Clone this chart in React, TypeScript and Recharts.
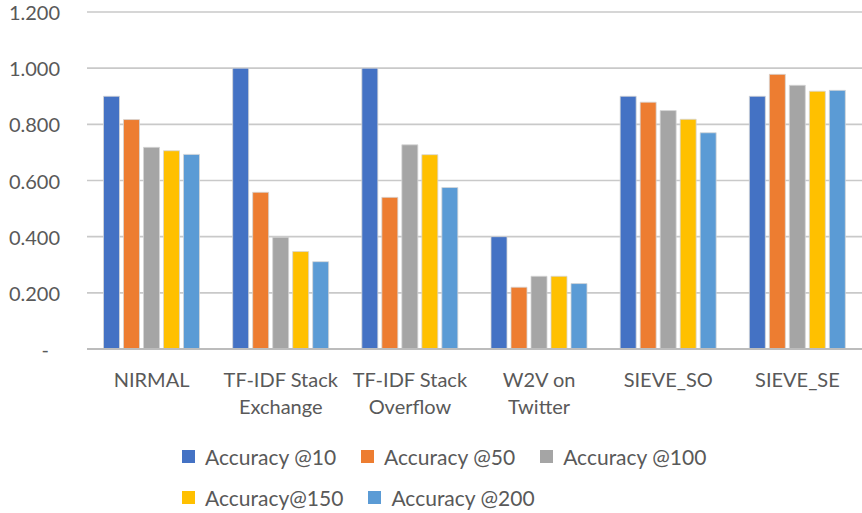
import React from "react";
import { BarChart, Bar, XAxis, YAxis, CartesianGrid } from "recharts";

const categories = [
  "NIRMAL",
  "TF-IDF Stack\nExchange",
  "TF-IDF Stack\nOverflow",
  "W2V on\nTwitter",
  "SIEVE_SO",
  "SIEVE_SE",
];

const acc10 = [0.9, 1.0, 1.0, 0.4, 0.9, 0.9];
const acc50 = [0.817, 0.558, 0.54, 0.22, 0.879, 0.978];
const acc100 = [0.718, 0.398, 0.727, 0.259, 0.849, 0.939];
const acc150 = [0.706, 0.347, 0.692, 0.259, 0.818, 0.918];
const acc200 = [0.693, 0.311, 0.575, 0.233, 0.77, 0.921];

const yTicks = [0, 0.2, 0.4, 0.6, 0.8, 1.0, 1.2];

const series = [
  { key: "acc10", name: "Accuracy @10", color: "#4472C4", values: acc10 },
  { key: "acc50", name: "Accuracy @50", color: "#ED7D31", values: acc50 },
  { key: "acc100", name: "Accuracy @100", color: "#A5A5A5", values: acc100 },
  { key: "acc150", name: "Accuracy@150", color: "#FFC000", values: acc150 },
  { key: "acc200", name: "Accuracy @200", color: "#5B9BD5", values: acc200 },
];

const data = categories.map((name, i) => {
  const row: Record<string, string | number> = { name };
  series.forEach((s) => {
    row[s.key] = s.values[i];
  });
  return row;
});

const FONT = "Lato, 'Open Sans', sans-serif";
const TEXT = "#595959";

const YTick = (props: any) => {
  const { x, y, payload } = props;
  const v = payload.value as number;
  const label = v === 0 ? "-" : v.toFixed(3);
  return (
    <text
      x={v === 0 ? x - 11 : x}
      y={y}
      dy={8}
      textAnchor="end"
      fill={TEXT}
      fontSize={20}
      fontFamily={FONT}
    >
      {label}
    </text>
  );
};

const XTick = (props: any) => {
  const { x, y, payload } = props;
  const lines = String(payload.value).split("\n");
  return (
    <text
      x={x}
      y={y + 36}
      textAnchor="middle"
      fill={TEXT}
      fontSize={20}
      fontFamily={FONT}
    >
      {lines.map((l, i) => (
        <tspan key={i} x={x} dy={i === 0 ? 0 : 27}>
          {l}
        </tspan>
      ))}
    </text>
  );
};

export default function App() {
  return (
    <div
      style={{
        position: "absolute",
        left: 0,
        top: 0,
        width: 862,
        height: 513,
        background: "#fff",
      }}
    >
      <BarChart
        width={862}
        height={513}
        data={data}
        margin={{ top: 12, right: 0, left: 0, bottom: 104 }}
        barCategoryGap={16.5}
        barGap={4}
      >
        <CartesianGrid
          vertical={false}
          stroke="#c9c9c9"
          strokeWidth={1.6}
        />
        <XAxis
          dataKey="name"
          height={60}
          tickLine={false}
          tickSize={0}
          axisLine={{ stroke: "#bcbcbc", strokeWidth: 2 }}
          tick={<XTick />}
          interval={0}
        />
        <YAxis
          width={87}
          domain={[0, 1.2]}
          ticks={yTicks}
          axisLine={false}
          tickLine={false}
          tickSize={0}
          tickMargin={27}
          tick={<YTick />}
        />
        {series.map((s) => (
          <Bar
            key={s.key}
            dataKey={s.key}
            name={s.name}
            fill={s.color}
            stroke="#d6d6d6"
            strokeWidth={0.8}
            isAnimationActive={false}
          />
        ))}
      </BarChart>
      <div
        style={{
          position: "absolute",
          left: 182,
          top: 442,
          width: 580,
          display: "flex",
          flexWrap: "wrap",
          rowGap: 13,
          fontFamily: FONT,
          fontSize: 21,
          color: TEXT,
        }}
      >
        {series.map((s) => (
          <div
            key={s.key}
            style={{
              display: "flex",
              alignItems: "center",
              height: 28,
              marginRight: 25,
            }}
          >
            <span
              style={{
                display: "inline-block",
                width: 13,
                height: 13,
                background: s.color,
                marginRight: 10,
              }}
            />
            <span>{s.name}</span>
          </div>
        ))}
      </div>
    </div>
  );
}
